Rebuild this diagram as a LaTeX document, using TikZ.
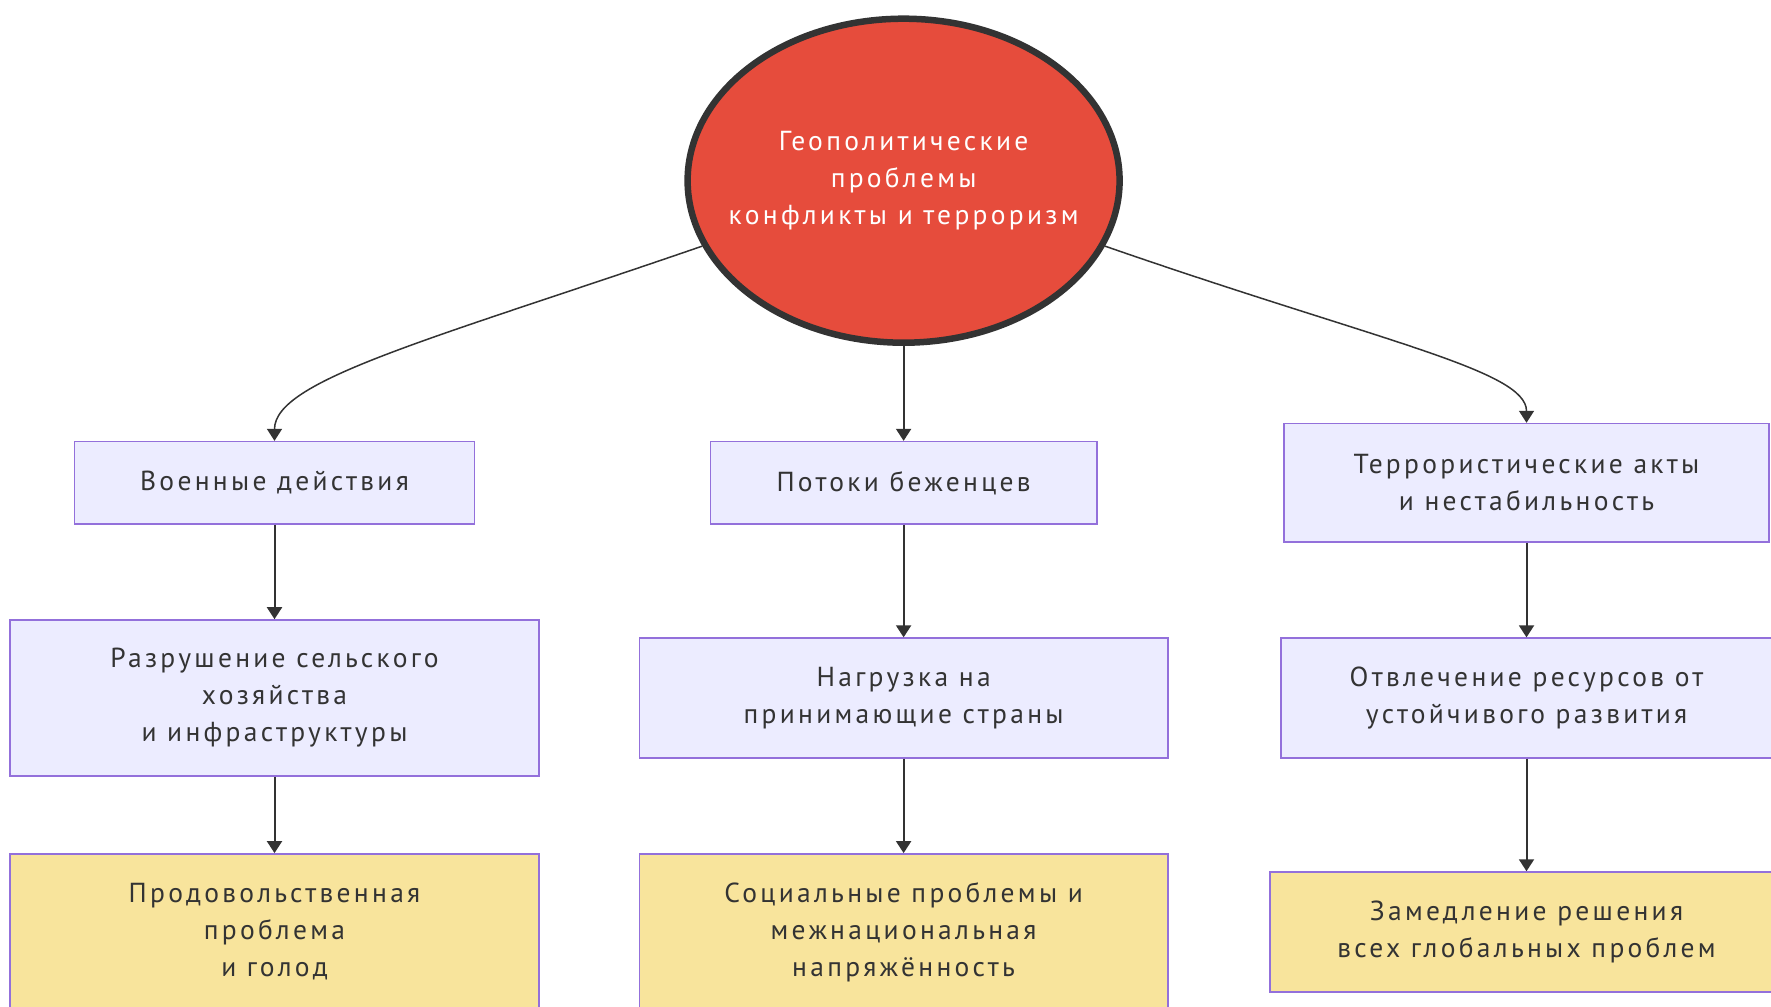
\documentclass[tikz,border=0pt]{standalone}
\usepackage{fontspec}
\setmainfont[LetterSpace=12]{PT Sans}
\usetikzlibrary{arrows.meta,shapes.geometric}
\definecolor{ellred}{HTML}{E64C3C}
\definecolor{edgegray}{HTML}{333333}
\definecolor{boxfill}{HTML}{ECECFF}
\definecolor{boxline}{HTML}{9370DB}
\definecolor{yelfill}{HTML}{F8E49C}
\definecolor{txt}{HTML}{333333}
\begin{document}
\begin{tikzpicture}[x=1pt,y=-1pt,
  ell/.style={ellipse,draw=edgegray,line width=6.5pt,fill=ellred,text=white,
    minimum width=432pt,minimum height=324pt,align=center,font=\fontsize{27.5}{37}\selectfont,
    inner xsep=-40pt,inner ysep=0pt},
  pbox/.style={rectangle,draw=boxline,line width=1.6pt,fill=boxfill,text=txt,
    align=center,font=\fontsize{27.5}{37}\selectfont,inner sep=0pt},
  ybox/.style={pbox,fill=yelfill},
  arr/.style={draw=edgegray,line width=2pt,-{Triangle[length=12pt,width=15pt]}},
  carr/.style={draw=edgegray,line width=1.5pt,-{Triangle[length=12pt,width=15pt]}}]
\useasboundingbox[fill=white] (0,0) rectangle (1771,1006);
\begin{scope}
\clip (0,0) rectangle (1771,1006);
\node[ell] (g) at (903.6,180.7) {Геополитические\\проблемы\\конфликты и терроризм};

\node[pbox,minimum width=400pt,minimum height=82.5pt] (a1) at (274.5,482.9) {Военные действия};
\node[pbox,minimum width=528.6pt,minimum height=156pt] (a2) at (274.5,698) {Разрушение сельского\\хозяйства\\и инфраструктуры};
\node[ybox,minimum width=528.6pt,minimum height=156pt] (a3) at (274.5,931.9) {Продовольственная\\проблема\\и голод};

\node[pbox,minimum width=386.2pt,minimum height=82.5pt] (b1) at (903.6,482.9) {Потоки беженцев};
\node[pbox,minimum width=528.6pt,minimum height=119.7pt] (b2) at (903.6,698) {Нагрузка на\\принимающие страны};
\node[ybox,minimum width=528.6pt,minimum height=156pt] (b3) at (903.6,931.9) {Социальные проблемы и\\межнациональная\\напряжённость};

\node[pbox,minimum width=484.6pt,minimum height=118.6pt] (c1) at (1526.5,482.9) {Террористические акты\\и нестабильность};
\node[pbox,minimum width=491pt,minimum height=119.7pt] (c2) at (1526.5,698) {Отвлечение ресурсов от\\устойчивого развития};
\node[ybox,minimum width=513pt,minimum height=119.7pt] (c3) at (1526.5,931.9) {Замедление решения\\всех глобальных проблем};

\draw[carr] (g.198) .. controls (430,340) and (274.5,380) .. (a1.north);
\draw[arr] (g.south) -- (b1.north);
\draw[carr] (g.-18) .. controls (1381,342) and (1526.5,370) .. (c1.north);

\draw[arr] (a1.south) -- (a2.north);
\draw[arr] (a2.south) -- (a3.north);
\draw[arr] (b1.south) -- (b2.north);
\draw[arr] (b2.south) -- (b3.north);
\draw[arr] (c1.south) -- (c2.north);
\draw[arr] (c2.south) -- (c3.north);
\end{scope}
\end{tikzpicture}
\end{document}
